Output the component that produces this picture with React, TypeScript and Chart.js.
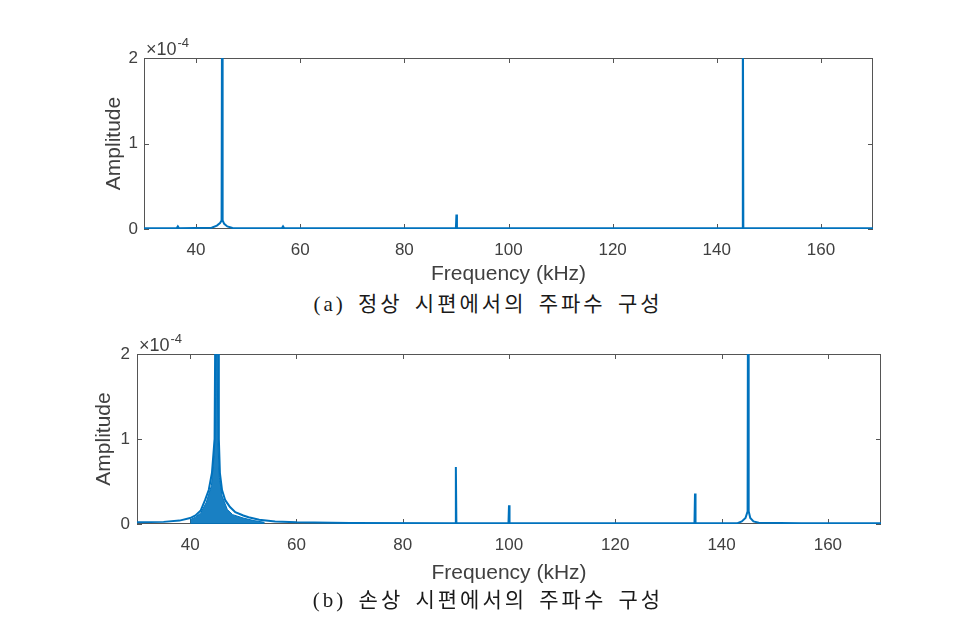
import React, { useEffect, useRef } from "react";
import { Chart, registerables } from "chart.js";

Chart.register(...registerables);

// (a) intact specimen: frequency (kHz) and amplitude (x 1e-4)
const freqA = [30, 36.3, 36.5, 36.7, 43, 44, 44.6, 44.9, 45, 45.1, 45.4, 46, 47, 56.5, 56.7, 56.9, 89.9, 90, 90.1, 144.9, 145, 145.1, 170];
const ampA = [0.01, 0.01, 0.03, 0.01, 0.015, 0.04, 0.07, 0.1, 3, 0.1, 0.06, 0.03, 0.012, 0.01, 0.03, 0.01, 0.01, 0.17, 0.01, 0.01, 3, 0.01, 0.01];

// (b) damaged specimen: frequency (kHz) and amplitude (x 1e-4)
const freqB = [30, 35, 38, 40, 41, 42, 42.8, 43.5, 44.1, 44.6, 44.75, 45, 45.25, 45.4, 45.6, 46, 46.6, 47.5, 48.5, 50, 51, 53, 56, 60, 70, 89.9, 90, 90.1, 99.9, 100, 100.1, 134.9, 135, 135.1, 143, 143.8, 144.5, 144.9, 145, 145.1, 145.4, 146, 147, 155, 170];
const ampB = [0.02, 0.025, 0.04, 0.07, 0.1, 0.16, 0.28, 0.4, 0.6, 1.0, 2.5, 5, 2.5, 1.0, 0.6, 0.4, 0.28, 0.2, 0.14, 0.1, 0.08, 0.05, 0.03, 0.02, 0.012, 0.01, 0.67, 0.01, 0.01, 0.22, 0.01, 0.01, 0.36, 0.01, 0.01, 0.03, 0.07, 0.15, 4, 0.15, 0.07, 0.03, 0.015, 0.01, 0.01];

// (b) dense oscillating base around 45 kHz (filled region)
const freqBBase = [40, 41, 42, 43, 44, 44.5, 44.8, 45, 45.2, 45.5, 46, 47, 48, 50, 52, 54];
const ampBBase = [0.05, 0.08, 0.13, 0.25, 0.45, 0.8, 1.5, 3, 1.0, 0.55, 0.33, 0.17, 0.11, 0.07, 0.04, 0.02];

const xTicks = [40, 60, 80, 100, 120, 140, 160];
const yTicks = [0, 1, 2];
const xRange = [30, 170];
const yRange = [0, 2];
const xLabel = "Frequency (kHz)";
const yLabel = "Amplitude";
const exponentBase = "\u00d710";
const exponentPower = "-4";
const captionA = "(a) 정상 시편에서의 주파수 구성";
const captionB = "(b) 손상 시편에서의 주파수 구성";

const FONT = "'Liberation Sans', Arial, sans-serif";
const TEXT = "#404040";
const AXIS = "#555555";
const LINE = "#0072BD";

type Geom = {
  top: number;
  height: number;
  padTop: number;
  padRight: number;
  yWidth: number;
  xHeight: number;
  yTitlePad: number;
  xTitlePad: number;
  yTickPad: number;
  xTickPad: number;
};

const toPts = (xs: number[], ys: number[]) => xs.map((x, i) => ({ x, y: ys[i] }));

const boxPlugin = {
  id: "matlabBox",
  beforeDatasetsDraw(chart: any) {
    const { ctx, chartArea: a, scales } = chart;
    const x = scales.x;
    const y = scales.y;
    ctx.save();
    ctx.strokeStyle = AXIS;
    ctx.lineWidth = 1;
    ctx.strokeRect(a.left + 0.5, a.top + 0.5, a.right - a.left - 1, a.bottom - a.top - 1);
    const tl = 5;
    ctx.beginPath();
    x.ticks.forEach((t: any) => {
      const px = Math.round(x.getPixelForValue(t.value)) + 0.5;
      ctx.moveTo(px, a.bottom);
      ctx.lineTo(px, a.bottom - tl);
      ctx.moveTo(px, a.top);
      ctx.lineTo(px, a.top + tl);
    });
    y.ticks.forEach((t: any) => {
      const py = Math.round(y.getPixelForValue(t.value)) + 0.5;
      ctx.moveTo(a.left, py);
      ctx.lineTo(a.left + tl, py);
      ctx.moveTo(a.right, py);
      ctx.lineTo(a.right - tl, py);
    });
    ctx.stroke();
    ctx.restore();
  },
  afterDraw(chart: any) {
    const { ctx, chartArea: a } = chart;
    ctx.save();
    ctx.fillStyle = TEXT;
    ctx.textBaseline = "alphabetic";
    ctx.textAlign = "left";
    ctx.font = `18px ${FONT}`;
    const x0 = a.left + 2;
    ctx.fillText(exponentBase, x0, a.top - 3);
    const w = ctx.measureText(exponentBase).width;
    ctx.font = `13px ${FONT}`;
    ctx.fillText(exponentPower, x0 + w + 1, a.top - 11);
    ctx.restore();
  },
};

function SpectrumChart({ geom, datasets }: { geom: Geom; datasets: any[] }) {
  const ref = useRef<HTMLCanvasElement | null>(null);
  useEffect(() => {
    if (!ref.current) return;
    const g = geom;
    const chart = new Chart(ref.current, {
      type: "line",
      data: { datasets },
      options: {
        animation: false,
        responsive: false,
        events: [],
        layout: { padding: { left: 0, top: g.padTop, right: g.padRight, bottom: 0 } },
        plugins: { legend: { display: false }, tooltip: { enabled: false } },
        elements: { point: { radius: 0 }, line: { tension: 0 } },
        scales: {
          x: {
            type: "linear",
            min: xRange[0],
            max: xRange[1],
            grid: { display: false, drawTicks: false },
            border: { display: false },
            afterBuildTicks: (s: any) => {
              s.ticks = xTicks.map((v) => ({ value: v }));
            },
            afterFit: (s: any) => {
              s.height = g.xHeight;
            },
            ticks: {
              padding: g.xTickPad,
              color: TEXT,
              font: { family: FONT, size: 17 },
              maxRotation: 0,
              autoSkip: false,
              callback: (v: any) => String(v),
            },
            title: {
              display: true,
              text: xLabel,
              color: TEXT,
              font: { family: FONT, size: 21 },
              padding: { top: 0, bottom: g.xTitlePad },
            },
          },
          y: {
            type: "linear",
            min: yRange[0],
            max: yRange[1],
            grid: { display: false, drawTicks: false },
            border: { display: false },
            afterBuildTicks: (s: any) => {
              s.ticks = yTicks.map((v) => ({ value: v }));
            },
            afterFit: (s: any) => {
              s.width = g.yWidth;
            },
            ticks: {
              padding: g.yTickPad,
              color: TEXT,
              font: { family: FONT, size: 17 },
              callback: (v: any) => String(v),
            },
            title: {
              display: true,
              text: yLabel,
              color: TEXT,
              font: { family: FONT, size: 21 },
              padding: { top: g.yTitlePad, bottom: 0 },
            },
          },
        },
      } as any,
      plugins: [boxPlugin],
    });
    return () => chart.destroy();
  }, []);
  return (
    <canvas
      ref={ref}
      width={955}
      height={geom.height}
      style={{ position: "absolute", left: 0, top: geom.top, width: 955, height: geom.height }}
    />
  );
}

const lineDs = (xs: number[], ys: number[]) => ({
  data: toPts(xs, ys),
  borderColor: LINE,
  borderWidth: 2,
  pointRadius: 0,
  fill: false,
  clip: 0,
});

const geomA: Geom = {
  top: 0,
  height: 290,
  padTop: 58,
  padRight: 82,
  yWidth: 144,
  xHeight: 61,
  yTitlePad: 102,
  xTitlePad: 3,
  yTickPad: 6,
  xTickPad: 11,
};

const geomB: Geom = {
  top: 290,
  height: 300,
  padTop: 64,
  padRight: 74,
  yWidth: 137,
  xHeight: 66,
  yTitlePad: 92,
  xTitlePad: 4,
  yTickPad: 7,
  xTickPad: 11,
};

const captionStyle = (centerY: number): React.CSSProperties => ({
  position: "absolute",
  left: 488 - 300,
  width: 600,
  top: centerY - 13,
  height: 26,
  lineHeight: "26px",
  textAlign: "center",
  fontSize: 21,
  fontFamily: "'Liberation Serif', 'Noto Sans CJK KR', serif",
  color: "#1a1a1a",
  wordSpacing: 4,
  letterSpacing: 3,
  whiteSpace: "nowrap",
});

export default function App() {
  const dsA = [lineDs(freqA, ampA)];
  const dsB = [
    lineDs(freqB, ampB),
    {
      data: toPts(freqBBase, ampBBase),
      borderColor: LINE,
      borderWidth: 1,
      backgroundColor: "rgba(0,114,189,0.9)",
      pointRadius: 0,
      fill: "origin",
      clip: 0,
    },
  ];
  return (
    <div style={{ position: "absolute", left: 0, top: 0, width: 955, height: 635, background: "#fff", overflow: "hidden" }}>
      <SpectrumChart geom={geomA} datasets={dsA} />
      <div style={captionStyle(304)}>{captionA}</div>
      <SpectrumChart geom={geomB} datasets={dsB} />
      <div style={captionStyle(600)}>{captionB}</div>
    </div>
  );
}
